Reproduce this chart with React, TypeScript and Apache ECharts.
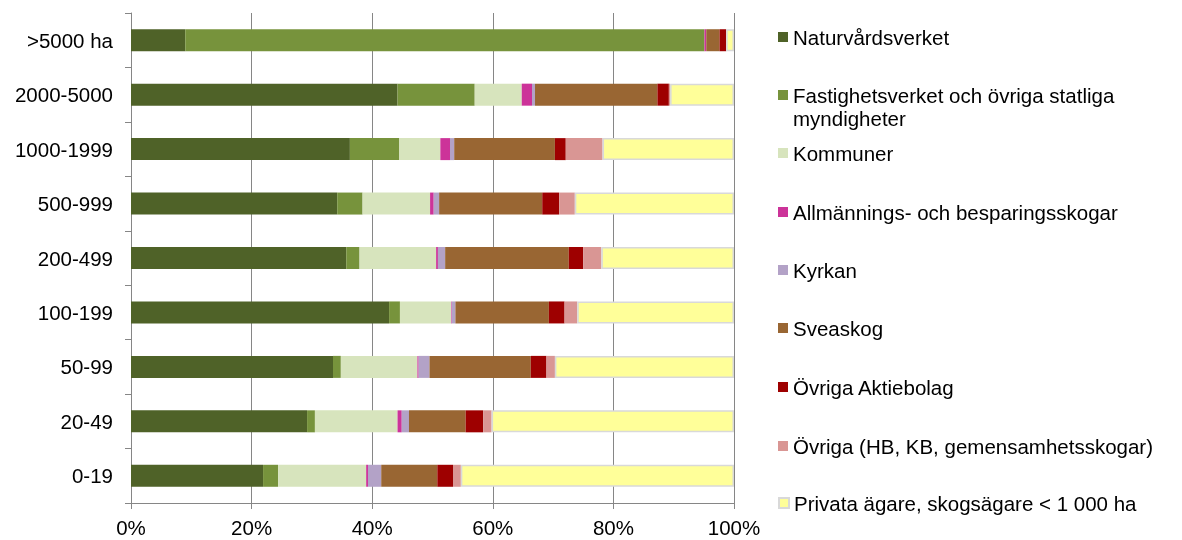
import React, { useEffect, useRef } from "react";
import * as echarts from "echarts";

const categories = ["0-19", "20-49", "50-99", "100-199", "200-499", "500-999", "1000-1999", "2000-5000", ">5000 ha"];

const seriesNames = [
  "Naturvårdsverket",
  "Fastighetsverket och övriga statliga myndigheter",
  "Kommuner",
  "Allmännings- och besparingsskogar",
  "Kyrkan",
  "Sveaskog",
  "Övriga Aktiebolag",
  "Övriga (HB, KB, gemensamhetsskogar)",
  "Privata ägare, skogsägare < 1 000 ha",
];

const naturvardsverket = [21.9, 29.2, 33.5, 42.8, 35.7, 34.2, 36.3, 44.2, 9.0];
const fastighetsverket = [2.5, 1.3, 1.3, 1.8, 2.2, 4.2, 8.2, 12.8, 86.1];
const kommuner = [14.6, 13.7, 12.7, 8.5, 12.7, 11.2, 6.8, 7.8, 0];
const allmannings = [0.3, 0.7, 0.2, 0.1, 0.3, 0.6, 1.6, 1.7, 0.3];
const kyrkan = [2.2, 1.2, 1.8, 0.6, 1.2, 0.9, 0.7, 0.5, 0];
const sveaskog = [9.3, 9.4, 16.8, 15.5, 20.5, 17.1, 16.7, 20.3, 2.2];
const ovrigaAktiebolag = [2.6, 2.9, 2.6, 2.6, 2.4, 2.8, 1.8, 1.9, 1.1];
const ovrigaHB = [1.3, 1.4, 1.4, 2.1, 3.0, 2.6, 6.1, 0.2, 0];
const privata = [45.3, 40.2, 29.7, 26.0, 22.0, 26.4, 21.8, 10.6, 1.3];

const seriesValues = [naturvardsverket, fastighetsverket, kommuner, allmannings, kyrkan, sveaskog, ovrigaAktiebolag, ovrigaHB, privata];

const colors = ["#4F6228", "#77933C", "#D7E4BD", "#CC3399", "#B3A2C7", "#996633", "#9E0000", "#D99694", "#FFFF99"];

const xTicks = [0, 20, 40, 60, 80, 100];

const FONT = "'Liberation Sans', Arial, sans-serif";
const FS = 20.5;
const legendCenters = [37, 95, 153, 212, 270, 328, 387, 446, 503];

export default function App() {
  const ref = useRef<HTMLDivElement>(null);
  useEffect(() => {
    if (!ref.current) return;
    const chart = echarts.init(ref.current, null, { renderer: "svg" });
    const legendLabels = seriesNames.map((n, i) => (i === 1 ? "Fastighetsverket och övriga statliga" : n));
    const option: any = {
      animation: false,
      textStyle: { fontFamily: FONT },
      grid: { left: 131, top: 13, width: 603, height: 490, containLabel: false },
      xAxis: {
        type: "value",
        min: xTicks[0],
        max: xTicks[xTicks.length - 1],
        interval: 20,
        axisLine: { show: true, lineStyle: { color: "#868686", width: 1 } },
        axisTick: { show: true, length: 6, lineStyle: { color: "#868686" } },
        splitLine: { show: true, lineStyle: { color: "#868686", width: 1 } },
        axisLabel: { formatter: "{value}%", color: "#000", fontSize: FS, fontFamily: FONT, margin: 14 },
      },
      yAxis: {
        type: "category",
        data: categories,
        axisLine: { show: true, lineStyle: { color: "#868686", width: 1 } },
        axisTick: { show: true, length: 6, lineStyle: { color: "#868686" } },
        axisLabel: { color: "#000", fontSize: FS, fontFamily: FONT, margin: 18 },
      },
      legend: seriesNames.map((n, i) => ({
        data: [n],
        left: 778,
        top: legendCenters[i] - 12,
        orient: "vertical",
        padding: 0,
        itemWidth: 10,
        itemHeight: 10,
        icon: "rect",
        selectedMode: false,
        formatter: () => legendLabels[i],
        textStyle: { color: "#000", fontSize: FS, fontFamily: FONT, lineHeight: 24 },
      })),
      graphic: [
        {
          type: "text",
          left: 793,
          top: 118 - 12,
          style: { text: "myndigheter", fill: "#000", fontSize: FS, fontFamily: FONT, lineHeight: 24 },
        },
      ],
      series: seriesNames.map((n, i) => ({
        name: n,
        type: "bar",
        stack: "total",
        barWidth: 22,
        data: seriesValues[i],
        itemStyle: {
          color: colors[i],
          borderColor: i === 8 ? "#D9D9D9" : colors[i],
          borderWidth: i === 8 ? 1.5 : 0,
        },
      })),
    };
    chart.setOption(option);
    return () => chart.dispose();
  }, []);
  return <div ref={ref} style={{ position: "fixed", left: 0, top: 0, width: 1182, height: 540 }} />;
}
